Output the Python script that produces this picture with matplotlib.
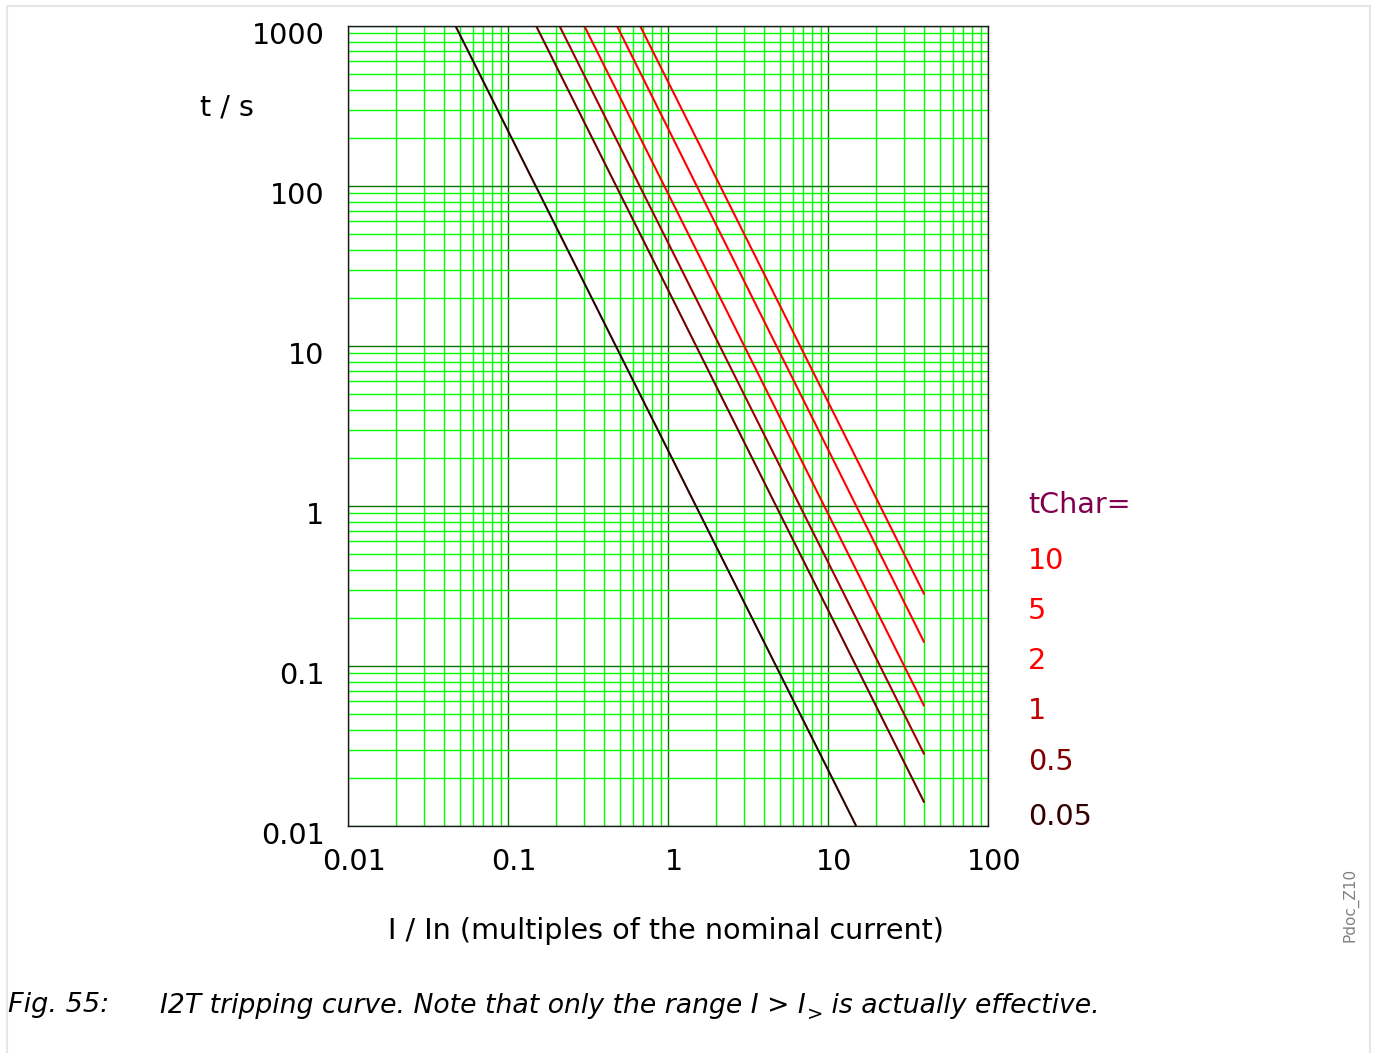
import matplotlib
matplotlib.use("Agg")
import matplotlib.pyplot as plt
import matplotlib.transforms as mtransforms
from matplotlib.patches import Rectangle

# tripping curves, endpoints (straight lines on log-log)
tchar = [0.05, 0.5, 1, 2, 5, 10]
tchar_labels = ["0.05", "0.5", "1", "2", "5", "10"]
i_start = [0.047, 0.15, 0.21, 0.30, 0.48, 0.67]
t_start = [1000, 1000, 1000, 1000, 1000, 1000]
i_end = [15, 40, 40, 40, 40, 40]
t_end = [0.01, 0.014, 0.028, 0.056, 0.14, 0.28]
line_colors = ["#2a0000", "#6e0000", "#a00000", "#ff0000", "#ff0000", "#ff0000"]
label_colors = ["#330000", "#800000", "#c00000", "#ff0000", "#ff0000", "#ff0000"]

x_ticks = [0.01, 0.1, 1, 10, 100]
x_ticklabels = ["0.01", "0.1", "1", "10", "100"]
y_ticks = [0.01, 0.1, 1, 10, 100, 1000]
y_ticklabels = ["0.01", "0.1", "1", "10", "100", "1000"]

W, H = 1375, 1053
plt.rcParams['font.family'] = ['DejaVu Sans']
fs = 20.6
fs_cap = 19.2

fig = plt.figure(figsize=(W / 100, H / 100), dpi=100)

def fx(px):
    return px / W

def fy(py):
    return 1 - py / H

ax = fig.add_axes([fx(348), fy(826), fx(988) - fx(348), fy(26) - fy(826)])
ax.set_xscale('log')
ax.set_yscale('log')
ax.set_xlim(0.01, 100)
ax.set_ylim(0.01, 1000)

# grid
ax.grid(True, which='minor', color='#00ff00', linewidth=1.0)
ax.grid(True, which='major', color='#007800', linewidth=1.0)
ax.set_axisbelow(True)

for i in range(len(tchar)):
    ax.plot([i_start[i], i_end[i]], [t_start[i], t_end[i]],
            color=line_colors[i], linewidth=1.5, solid_capstyle='butt')

ax.set_xticks(x_ticks)
ax.set_xticklabels(x_ticklabels)
ax.set_yticks(y_ticks)
ax.set_yticklabels(y_ticklabels)
ax.tick_params(which='both', length=0, labelsize=fs)
ax.tick_params(axis='x', pad=16)
ax.tick_params(axis='y', pad=17)

# shift tick labels slightly like the original
dx = mtransforms.ScaledTranslation(6 / 100, 0, fig.dpi_scale_trans)
for lab in ax.get_xticklabels():
    lab.set_transform(lab.get_transform() + dx)
dy = mtransforms.ScaledTranslation(0, -7 / 100, fig.dpi_scale_trans)
for lab in ax.get_yticklabels():
    lab.set_transform(lab.get_transform() + dy)

for s in ax.spines.values():
    s.set_color('#1a1a1a')
    s.set_linewidth(1.0)

# axis labels
fig.text(fx(227), fy(108), "t / s", fontsize=fs, ha='center', va='center')
fig.text(fx(666), fy(931), "I / In (multiples of the nominal current)",
         fontsize=fs, ha='center', va='center')

# legend-like labels on the right
fig.text(fx(1028), fy(505), "tChar=", fontsize=fs, color='#800050',
         ha='left', va='center')
label_y = [817, 762, 711, 661, 611, 561]
for i in range(len(tchar)):
    fig.text(fx(1028), fy(label_y[i]), tchar_labels[i], fontsize=fs,
             color=label_colors[i], ha='left', va='center')

# caption, built from pieces so the subscript sits tight
fig.text(fx(8), fy(1005), "Fig. 55:", fontsize=19.5, style='italic',
         ha='left', va='center')
renderer = fig.canvas.get_renderer()
t1 = fig.text(fx(160), fy(1013), "I2T tripping curve. Note that only the range I > I",
              fontsize=fs_cap, style='italic', ha='left', va='baseline')
x_end = t1.get_window_extent(renderer).x1
t2 = fig.text((x_end + 1) / W, fy(1020), ">", fontsize=14, style='italic',
              ha='left', va='baseline')
x_end2 = t2.get_window_extent(renderer).x1
fig.text(x_end2 / W, fy(1013), " is actually effective.", fontsize=fs_cap,
         style='italic', ha='left', va='baseline')

fig.text(fx(1350), fy(905), "Pdoc_Z10", fontsize=11, color='#808080',
         rotation=90, ha='center', va='center')

# light frame around the image
fig.patches.append(Rectangle((fx(7), fy(1080)), fx(1370) - fx(7), fy(6) - fy(1080),
                             transform=fig.transFigure, fill=False,
                             edgecolor='#e6e6e6', linewidth=1.5))

fig.savefig("out.png", dpi=100)
